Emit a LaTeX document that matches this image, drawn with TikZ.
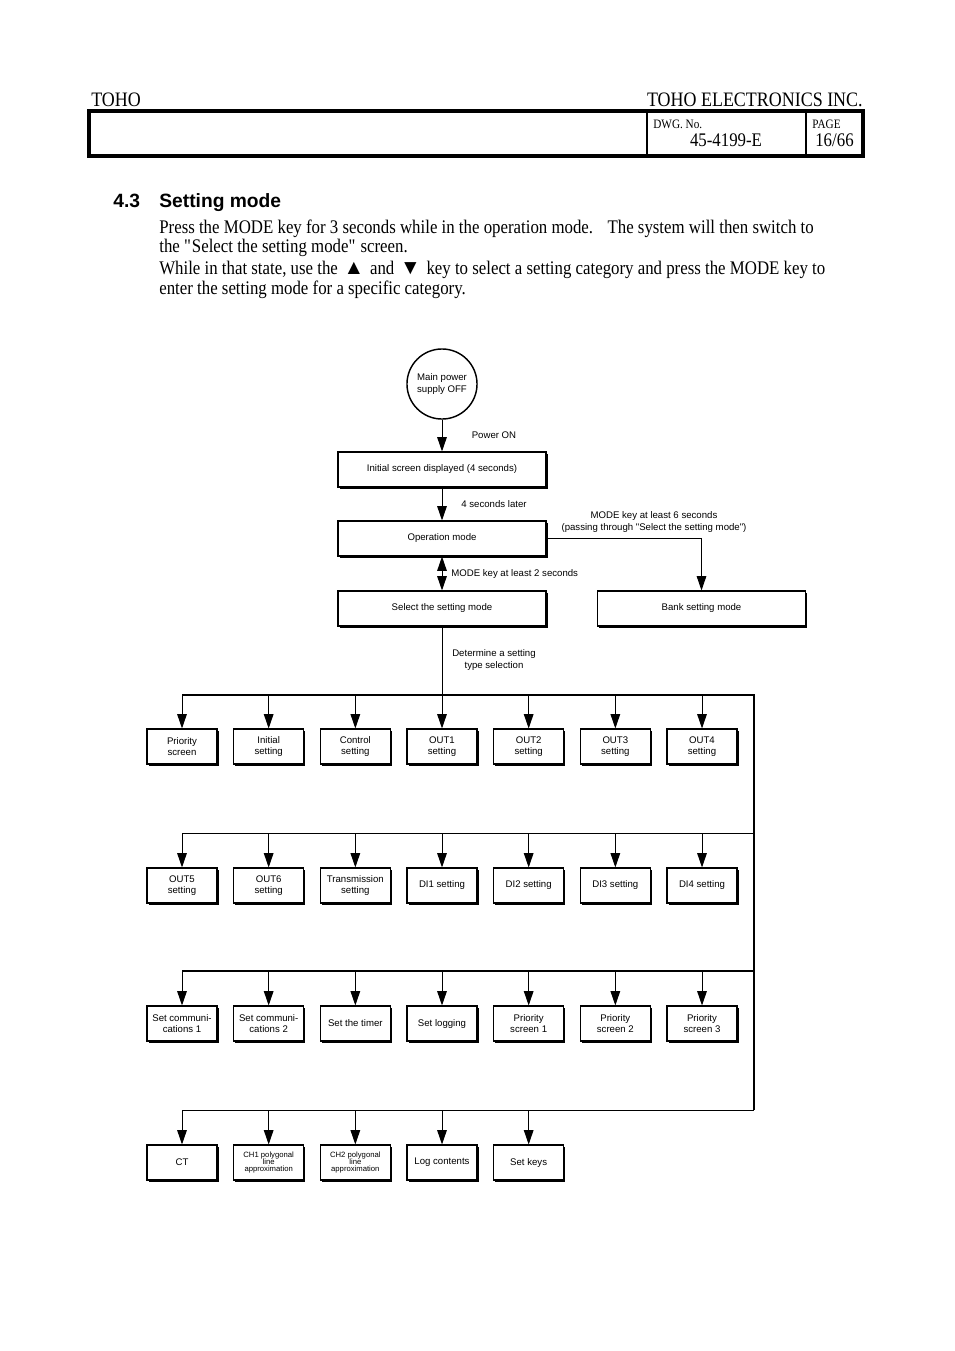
\documentclass[tikz,border=0pt]{standalone}
\usepackage{fontspec}
\setmainfont{Liberation Serif}[FakeStretch=0.875]
\setsansfont{Liberation Sans}
\usetikzlibrary{arrows.meta,shadows}

\tikzset{
  box/.style={draw, fill=white, line width=0.7pt, align=center, inner sep=1pt,
    font=\sffamily\fontsize{6}{6.9}\selectfont,
    general shadow={shadow xshift=1pt, shadow yshift=-1pt, fill=black}},
  widebox/.style={box, minimum width=129.7pt, minimum height=21.8pt},
  smallbox/.style={box, minimum width=43.7pt, minimum height=21.8pt},
  tinybox/.style={smallbox, font=\sffamily\fontsize{4.8}{4.6}\selectfont},
  lbl/.style={font=\sffamily\fontsize{6}{6.9}\selectfont, align=center, inner sep=0pt},
  arr/.style={-{Triangle[length=9pt,width=6pt]}, line width=0.6pt},
  bus/.style={line width=1.2pt},
  serif/.style={inner sep=0pt, font=\fontsize{12}{14}\selectfont},
  headtxt/.style={inner sep=0pt, font=\fontsize{12.8}{14}\selectfont},
}

\begin{document}
\begin{tikzpicture}[x=0.6238pt, y=-0.6238pt]
\useasboundingbox (0,0) rectangle (954,1351);

% page header
\node[headtxt, anchor=base west] (toho) at (91,106) {TOHO};
\node[headtxt, anchor=base east] (company) at (863,106) {TOHO ELECTRONICS INC.};
\draw[line width=1.9pt] (89,111) rectangle (863,156);
\draw[line width=1.1pt] (647,111) -- (647,156) (806,111) -- (806,156);
\node[inner sep=0pt, anchor=base west, font=\fontsize{8}{9}\selectfont] (dwg) at (653,128) {DWG. No.};
\node[serif, anchor=base] (dwgno) at (726,146) {45-4199-E};
\node[inner sep=0pt, anchor=base west, font=\fontsize{8}{9}\selectfont] (page) at (812,128) {PAGE};
\node[serif, anchor=base west] (pageno) at (815,146) {16/66};

% section title and text
\node[inner sep=0pt, anchor=base west, font=\sffamily\bfseries\fontsize{12}{14}\selectfont] (secno) at (113,207) {4.3};
\node[inner sep=0pt, anchor=base west, font=\sffamily\bfseries\fontsize{12}{14}\selectfont] (sectitle) at (159,207) {Setting mode};
\node[serif, anchor=base west] (par1) at (159,233) {Press the MODE key for 3 seconds while in the operation mode.\hspace{0.75em}The system will then switch to};
\node[serif, anchor=base west] (par2) at (159,252) {the \textquotedbl Select the setting mode\textquotedbl{} screen.};
\node[serif, anchor=base west] (par3) at (159,274) {While in that state, use the\hspace{0.3em}{\sffamily\fontsize{13}{14}\selectfont ▲}\hspace{0.3em}and\hspace{0.3em}{\sffamily\fontsize{13}{14}\selectfont ▼}\hspace{0.3em}key to select a setting category and press the MODE key to};
\node[serif, anchor=base west] (par4) at (159,294) {enter the setting mode for a specific category.};

% upper part of the flow
\node[circle, draw, line width=0.9pt, minimum size=43.7pt, inner sep=0pt, lbl] (power) at (442,384) {Main power\\supply OFF};
\node[widebox] (init) at (442,469.5) {Initial screen displayed (4 seconds)};
\node[widebox] (op) at (442,538.5) {Operation mode};
\node[widebox] (sel) at (442,608.5) {Select the setting mode};
\node[widebox] (bank) at (701.5,608.5) {Bank setting mode};

\draw[arr] (power) -- (init);
\node[lbl] (poweron) at (494,435) {Power ON};
\draw[arr] (init) -- (op);
\node[lbl] (later) at (494,504) {4 seconds later};
\draw[arr] (op.east) -| (bank.north);
\node[lbl] (six) at (654,522) {MODE key at least 6 seconds\\(passing through \textquotedbl Select the setting mode\textquotedbl)};
\draw[{Triangle[length=9pt,width=6pt]}-{Triangle[length=9pt,width=6pt]}, line width=0.6pt] (op) -- (sel);
\node[lbl, anchor=west] (two) at (451,574) {MODE key at least 2 seconds};

% bus lines
\coordinate (hub) at (442,695);
\draw[line width=0.6pt] (sel) -- (hub);
\node[lbl] (determine) at (494,660) {Determine a setting\\type selection};
\foreach \y/\r in {695/1,833/2,971/3,1110/4} {
  \coordinate (bus\r w) at (182,\y);
  \coordinate (bus\r e) at (754,\y);
}
\draw[bus] (bus1w) -- (bus1e) -- (bus4e);
\draw[line width=0.6pt] (bus2w) -- (bus2e);
\draw[bus] (bus3w) -- (bus3e);
\draw[line width=0.6pt] (bus4w) -- (bus4e);

% setting categories
\foreach \txt [count=\i] in {{Priority\\screen},{Initial\\setting},{Control\\setting},{OUT1\\setting},{OUT2\\setting},{OUT3\\setting},{OUT4\\setting}} {
  \coordinate (t1-\i) at ({182+(\i-1)*86.667},695);
  \node[smallbox] (r1-\i) at ({182+(\i-1)*86.667},746.5) {\txt};
  \draw[arr] (t1-\i) -- (r1-\i);
}
\foreach \txt [count=\i] in {{OUT5\\setting},{OUT6\\setting},{Transmission\\setting},{DI1 setting},{DI2 setting},{DI3 setting},{DI4 setting}} {
  \coordinate (t2-\i) at ({182+(\i-1)*86.667},833);
  \node[smallbox] (r2-\i) at ({182+(\i-1)*86.667},885.5) {\txt};
  \draw[arr] (t2-\i) -- (r2-\i);
}
\foreach \txt [count=\i] in {{Set communi-\\cations 1},{Set communi-\\cations 2},{Set the timer},{Set logging},{Priority\\screen 1},{Priority\\screen 2},{Priority\\screen 3}} {
  \coordinate (t3-\i) at ({182+(\i-1)*86.667},971);
  \node[smallbox] (r3-\i) at ({182+(\i-1)*86.667},1023.5) {\txt};
  \draw[arr] (t3-\i) -- (r3-\i);
}
\foreach \txt/\sty [count=\i] in {CT/smallbox,{CH1 polygonal\\line\\approximation}/tinybox,{CH2 polygonal\\line\\approximation}/tinybox,Log contents/smallbox,Set keys/smallbox} {
  \coordinate (t4-\i) at ({182+(\i-1)*86.667},1110);
  \node[\sty] (r4-\i) at ({182+(\i-1)*86.667},1162.5) {\txt};
  \draw[arr] (t4-\i) -- (r4-\i);
}
\end{tikzpicture}
\end{document}
